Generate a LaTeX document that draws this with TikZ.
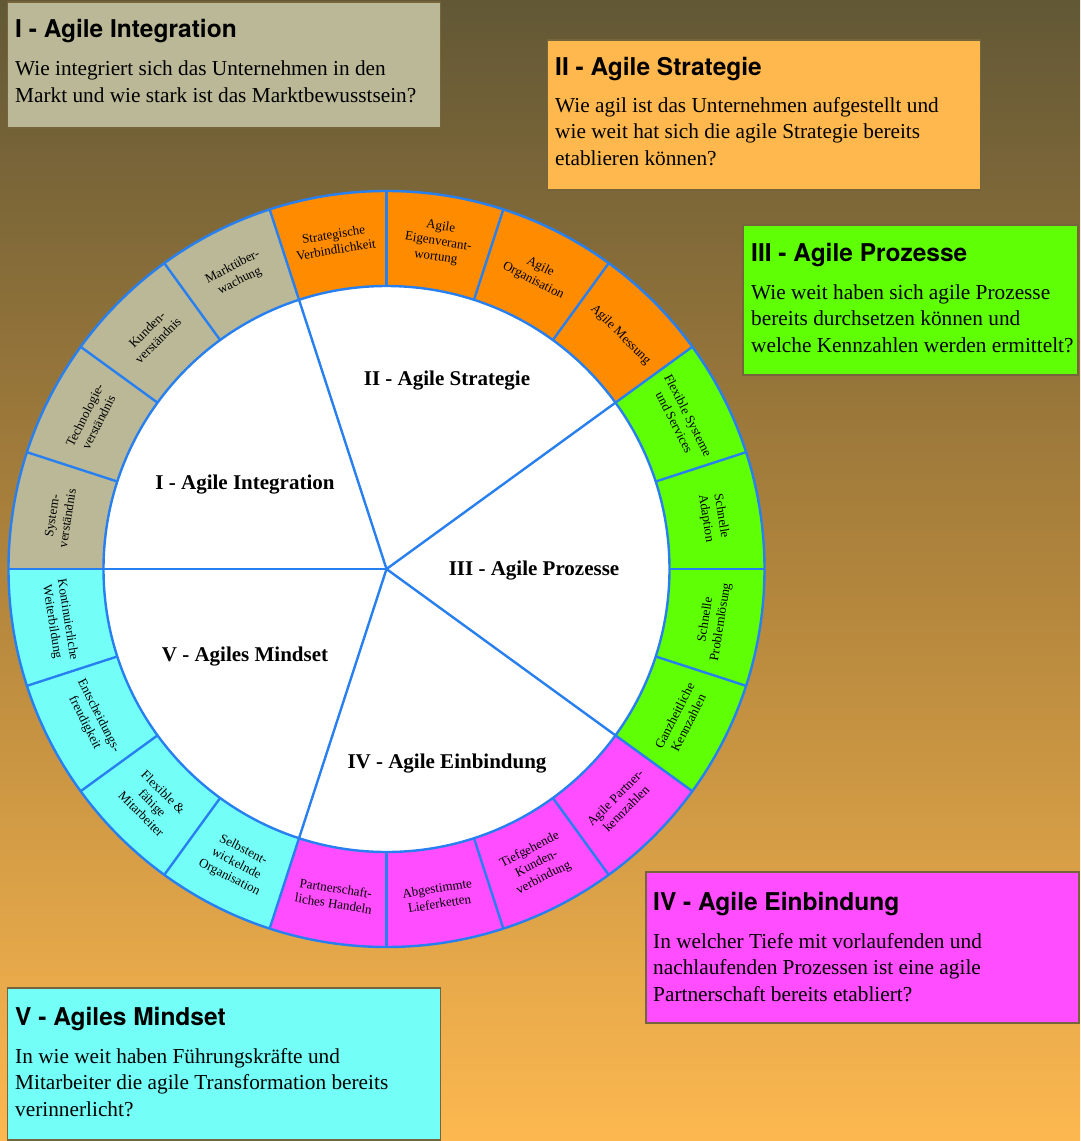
\documentclass[tikz,border=0pt]{standalone}
\usepackage{fontspec}
\setmainfont{Liberation Serif}
\newfontfamily\titlefont{TeX Gyre Heros}
\definecolor{tanc}{RGB}{186,184,150}
\definecolor{orangeseg}{RGB}{255,140,0}
\definecolor{orangebox}{RGB}{255,184,77}
\definecolor{greenc}{RGB}{95,255,5}
\definecolor{magc}{RGB}{255,77,255}
\definecolor{cyanc}{RGB}{115,255,248}
\definecolor{bluel}{RGB}{40,128,240}
\definecolor{bgdark}{RGB}{98,88,54}
\definecolor{bgmid}{RGB}{176,132,60}
\definecolor{bglight}{RGB}{253,184,80}
\definecolor{boxedge}{RGB}{118,100,58}
\begin{document}
\begin{tikzpicture}[x=1pt,y=1pt,
  seg/.style={font=\fontsize{13}{15.5}\selectfont, align=center, inner sep=0pt},
  sector/.style={font=\bfseries\fontsize{21}{24}\selectfont, inner sep=0pt},
  boxtitle/.style={font=\titlefont\bfseries\fontsize{24.5}{28}\selectfont, anchor=base west, inner sep=0pt},
  boxbody/.style={font=\fontsize{21.3}{26.5}\selectfont, anchor=base west, align=left, inner sep=0pt},
  infobox/.style={draw=boxedge, line width=1.2pt},
  divider/.style={draw=bluel, line width=2.4pt}
]
\useasboundingbox (0,0) rectangle (1080,-1141);
\shade[shading angle=-20, top color=bgdark, bottom color=bglight, middle color=bgmid] (0,0) rectangle (1080,-1141);

% info boxes
\filldraw[infobox, fill=tanc] (7.5,-2) rectangle (440.5,-128);
\filldraw[infobox, fill=orangebox] (547.5,-40) rectangle (980.5,-190);
\filldraw[infobox, fill=greenc] (743,-225) rectangle (1078,-375);
\filldraw[infobox, fill=magc] (646,-872) rectangle (1079,-1023);
\filldraw[infobox, fill=cyanc] (7.5,-988) rectangle (440.5,-1140);

% body nodes are anchored at the baseline of their last line
\node[boxtitle] (t1) at (15,-37) {I - Agile Integration};
\node[boxbody] (b1) at (15,-102) {Wie integriert sich das Unternehmen in den\\Markt und wie stark ist das Marktbewusstsein?};
\node[boxtitle] (t2) at (555,-75) {II - Agile Strategie};
\node[boxbody] (b2) at (555,-165) {Wie agil ist das Unternehmen aufgestellt und\\wie weit hat sich die agile Strategie bereits\\etablieren können?};
\node[boxtitle] (t3) at (751,-261) {III - Agile Prozesse};
\node[boxbody] (b3) at (751,-352) {Wie weit haben sich agile Prozesse\\bereits durchsetzen können und\\welche Kennzahlen werden ermittelt?};
\node[boxtitle] (t4) at (653,-910) {IV - Agile Einbindung};
\node[boxbody] (b4) at (653,-1001) {In welcher Tiefe mit vorlaufenden und\\nachlaufenden Prozessen ist eine agile\\Partnerschaft bereits etabliert?};
\node[boxtitle] (t5) at (15,-1025) {V - Agiles Mindset};
\node[boxbody] (b5) at (15,-1116) {In wie weit haben Führungskräfte und\\Mitarbeiter die agile Transformation bereits\\verinnerlicht?};

% wheel
\begin{scope}[shift={(386.5,-569)}]
\foreach \a/\c in {162/tanc,144/tanc,126/tanc,108/tanc,
                   90/orangeseg,72/orangeseg,54/orangeseg,36/orangeseg,
                   18/greenc,0/greenc,-18/greenc,-36/greenc,
                   -54/magc,-72/magc,-90/magc,-108/magc,
                   -126/cyanc,-144/cyanc,-162/cyanc,-180/cyanc}{
  \fill[\c] (\a:283pt) -- (\a:378pt) arc[start angle=\a, end angle=\a+18, radius=378pt]
     -- ({\a+18}:283pt) arc[start angle=\a+18, end angle=\a, radius=283pt] -- cycle;
}
\fill[white] (0,0) circle[radius=283pt];
\foreach \a in {0,18,...,342}{
  \draw[divider] (\a:283pt) -- (\a:378pt);
}
\foreach \a in {36,108,180,252,324}{
  \draw[divider] (0,0) -- (\a:283pt);
}
\draw[divider] (0,0) circle[radius=378pt];
\draw[divider] (0,0) circle[radius=283pt];

% segment labels
\node[seg, rotate=81] (s1) at (171:331pt) {System-\\verständnis};
\node[seg, rotate=63] (s2) at (153:331pt) {Technologie-\\verständnis};
\node[seg, rotate=45] (s3) at (135:331pt) {Kunden-\\verständnis};
\node[seg, rotate=27] (s4) at (117:331pt) {Marktüber-\\wachung};
\node[seg, rotate=9] (s5) at (99:331pt) {Strategische\\Verbindlichkeit};
\node[seg, rotate=-9] (s6) at (81:331pt) {Agile\\Eigenverant-\\wortung};
\node[seg, rotate=-27] (s7) at (63:331pt) {Agile\\Organisation};
\node[seg, rotate=-45] (s8) at (45:331pt) {Agile Messung};
\node[seg, rotate=-63] (s9) at (27:331pt) {Flexible Systeme\\und Services};
\node[seg, rotate=-81] (s10) at (9:331pt) {Schnelle\\Adaption};
\node[seg, rotate=81] (s11) at (-9:331pt) {Schnelle\\Problemlösung};
\node[seg, rotate=63] (s12) at (-27:331pt) {Ganzheitliche\\Kennzahlen};
\node[seg, rotate=45] (s13) at (-45:331pt) {Agile Partner-\\kennzahlen};
\node[seg, rotate=27] (s14) at (-63:331pt) {Tiefgehende\\Kunden-\\verbindung};
\node[seg, rotate=9] (s15) at (-81:331pt) {Abgestimmte\\Lieferketten};
\node[seg, rotate=-9] (s16) at (-99:331pt) {Partnerschaft-\\liches Handeln};
\node[seg, rotate=-27] (s17) at (-117:331pt) {Selbstent-\\wickelnde\\Organisation};
\node[seg, rotate=-45] (s18) at (-135:331pt) {Flexible \&\\fähige\\Mitarbeiter};
\node[seg, rotate=-63] (s19) at (-153:331pt) {Entscheidungs-\\freudigkeit};
\node[seg, rotate=-81] (s20) at (-171:331pt) {Kontinuierliche\\Weiterbildung};
\end{scope}

% sector labels
\node[sector] (c2) at (447,-381) {II - Agile Strategie};
\node[sector] (c1) at (245,-485) {I - Agile Integration};
\node[sector] (c3) at (534,-571) {III - Agile Prozesse};
\node[sector] (c5) at (245,-657) {V - Agiles Mindset};
\node[sector] (c4) at (447,-764) {IV - Agile Einbindung};
\end{tikzpicture}
\end{document}
